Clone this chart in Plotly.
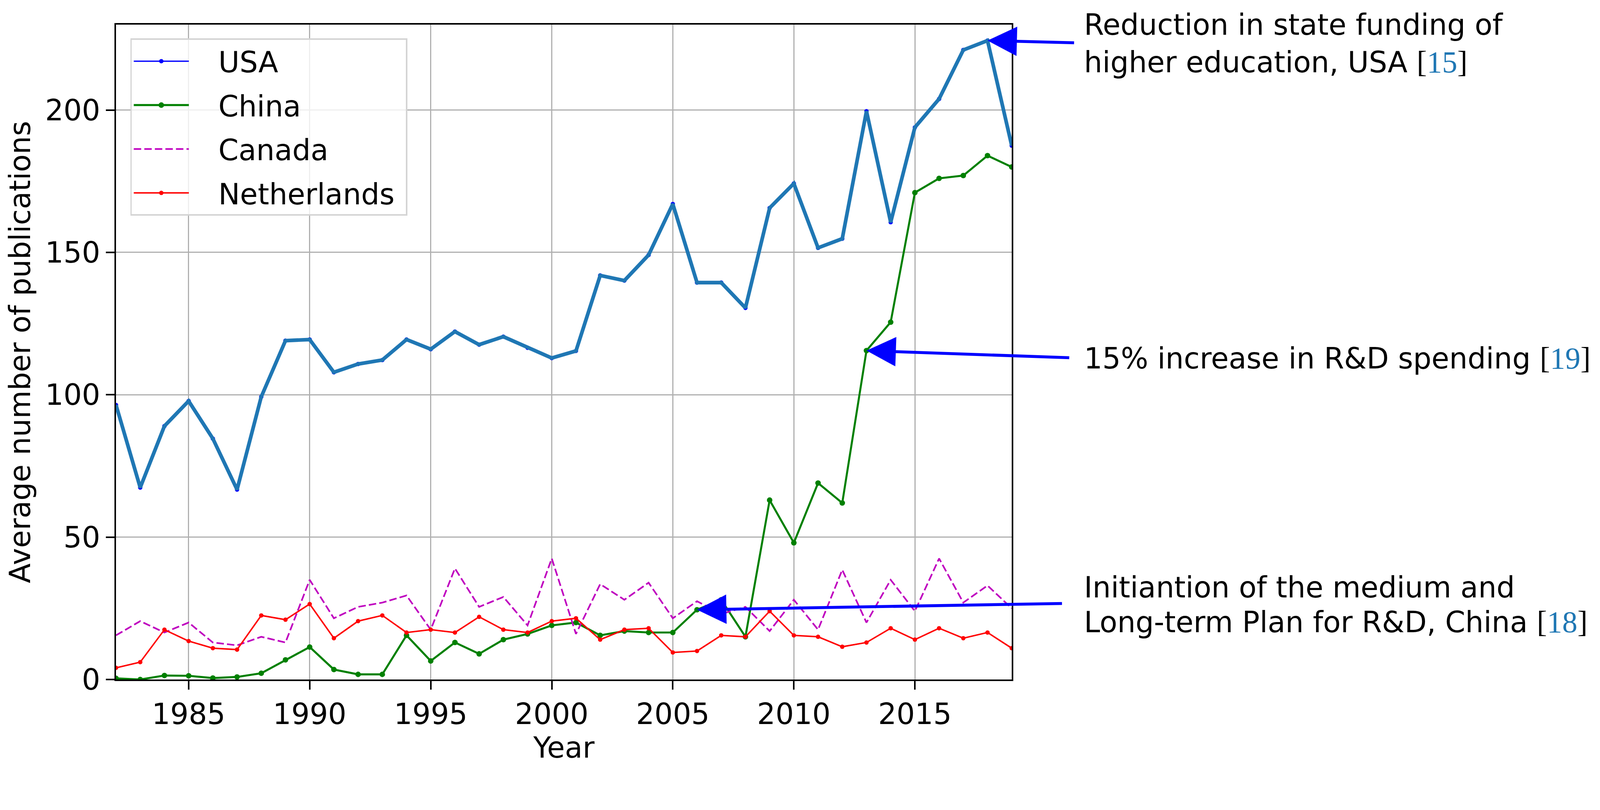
import plotly.graph_objects as go

years = list(range(1982, 2020))

usa = [96.4, 67.4, 89.0, 97.8, 84.6, 66.7, 99.3, 119.0, 119.4, 107.9,
       110.8, 112.2, 119.4, 116.0, 122.2, 117.6, 120.4, 116.5, 112.9, 115.4,
       141.9, 140.1, 149.1, 167.0, 139.4, 139.4, 130.5, 165.6, 174.2, 151.6,
       154.8, 199.6, 160.6, 193.9, 203.9, 221.1, 224.4, 187.5]

china = [0.4, 0.0, 1.4, 1.3, 0.5, 0.9, 2.2, 6.9, 11.4, 3.5,
         1.8, 1.8, 15.5, 6.5, 13.0, 9.0, 14.0, 16.0, 19.0, 20.0,
         15.5, 17.0, 16.5, 16.5, 24.5, 28.0, 15.0, 63.0, 48.0, 69.0,
         62.0, 115.5, 125.5, 171.0, 176.0, 177.0, 184.0, 180.0]

canada = [15.5, 20.5, 16.5, 20.0, 13.0, 12.0, 15.0, 13.0, 35.0, 21.5,
          25.5, 27.0, 29.5, 17.5, 39.0, 25.5, 29.0, 19.0, 42.5, 16.0,
          33.5, 28.0, 34.0, 21.5, 27.5, 23.0, 25.5, 17.0, 28.0, 17.5,
          38.5, 20.0, 35.0, 24.0, 42.5, 27.0, 33.0, 25.0]

netherlands = [4.1, 6.1, 17.5, 13.5, 11.0, 10.5, 22.5, 21.0, 26.5, 14.5,
               20.5, 22.5, 16.5, 17.5, 16.5, 22.0, 17.5, 16.5, 20.5, 21.5,
               14.0, 17.5, 18.0, 9.5, 10.0, 15.5, 15.0, 24.0, 15.5, 15.0,
               11.5, 13.0, 18.0, 14.0, 18.0, 14.5, 16.5, 11.0]

x_ticks = [1985, 1990, 1995, 2000, 2005, 2010, 2015]
y_ticks = [0, 50, 100, 150, 200]

# annotation events: (series, year, text lines, citation)
events = [
    ("usa", 2018, ["Reduction in state funding of", "higher education, USA"], "15"),
    ("china", 2013, ["15% increase in R&amp;D spending"], "19"),
    ("china", 2006, ["Initiantion of the medium and", "Long-term Plan for R&amp;D, China"], "18"),
]
series_map = {"usa": usa, "china": china}

# the page appears to be captured from a 4096-px-wide viewport scaled up to 4357
K = 4096 / 4357
W = 4096
H = round(2073 * K)
BODY = 8  # default body margin of the html page

FONT = "DejaVu Sans"
FS = 74
CITE_FS = 78
PAD = "\u00a0\u00a0\u00a0"


def s(v):
    return v * K


fig = go.Figure()

fig.add_trace(go.Scatter(x=years, y=usa, mode="lines+markers", name=PAD + "USA",
                         line=dict(color="#0000ff", width=s(3.5)),
                         marker=dict(color="#0000ff", size=s(12)),
                         legendgroup="a"))
fig.add_trace(go.Scatter(x=years, y=china, mode="lines+markers", name=PAD + "China",
                         line=dict(color="#008000", width=s(5.5)),
                         marker=dict(color="#008000", size=s(15)),
                         legendgroup="b"))
fig.add_trace(go.Scatter(x=years, y=canada, mode="lines", name=PAD + "Canada",
                         line=dict(color="#bf00bf", width=s(4.5), dash="19px,8px"),
                         legendgroup="c"))
fig.add_trace(go.Scatter(x=years, y=netherlands, mode="lines+markers",
                         name=PAD + "Netherlands\u00a0",
                         line=dict(color="#ff0000", width=s(4)),
                         marker=dict(color="#ff0000", size=s(12)),
                         legendgroup="d"))
fig.add_trace(go.Scatter(x=years, y=usa, mode="lines", showlegend=False,
                         line=dict(color="#1f77b4", width=s(10)), hoverinfo="skip"))

annotations = []
# arrow tails (data coords) and text line positions (paper coords)
tails = [(2021.6, 223.6), (2021.4, 113.0), (2021.1, 26.7)]
text_y = [[1.000, 0.943], [0.491], [0.141, 0.088]]
for (ser, yr, lines, cite), (tx, ty), ys in zip(events, tails, text_y):
    vals = series_map[ser]
    hy = vals[years.index(yr)]
    annotations.append(dict(x=yr, y=hy, xref="x", yref="y", ax=tx, ay=ty,
                            axref="x", ayref="y", text="", showarrow=True,
                            arrowhead=2, arrowsize=2.0, arrowwidth=s(8),
                            arrowcolor="#0000ff", standoff=0))
    for i, (ln, yy) in enumerate(zip(lines, ys)):
        txt = ln
        if i == len(lines) - 1:
            txt = (ln + ' <span style="font-family:Liberation Serif;font-size:%dpx">[' % CITE_FS +
                   '<span style="color:#1f77b4">' + cite + '</span>]</span>')
        annotations.append(dict(x=1.08, y=yy, xref="paper", yref="paper",
                                xanchor="left", yanchor="middle", text=txt,
                                showarrow=False,
                                font=dict(family=FONT, size=FS, color="black")))

left = round(316 * K) - BODY
top = round(67 * K) - BODY
right = W - (round(2755 * K) - BODY)
bottom = H - (round(1850 * K) - BODY)

fig.update_layout(
    width=W, height=H,
    margin=dict(l=left, r=right, t=top, b=bottom),
    paper_bgcolor="white", plot_bgcolor="white",
    font=dict(family=FONT, size=FS, color="black"),
    annotations=annotations,
    legend=dict(x=0.016, y=0.979, xanchor="left", yanchor="top",
                bgcolor="rgba(255,255,255,0.8)", bordercolor="#d4d4d4",
                borderwidth=s(4), font=dict(family=FONT, size=FS, color="black"),
                tracegroupgap=s(14), itemwidth=s(150)),
    showlegend=True,
)
fig.update_xaxes(range=[1982, 2019], tickvals=x_ticks, ticks="outside", ticklen=s(23),
                 tickwidth=s(4), tickcolor="black", showline=True, linecolor="black",
                 linewidth=s(4), mirror=True, showgrid=True, gridcolor="#b0b0b0",
                 gridwidth=s(3), zeroline=False,
                 title=dict(text="Year", standoff=s(4), font=dict(size=FS)),
                 tickfont=dict(size=FS))
fig.update_yaxes(range=[0, 230], tickvals=y_ticks, ticks="outside", ticklen=s(23),
                 tickwidth=s(4), tickcolor="black", showline=True, linecolor="black",
                 linewidth=s(4), mirror=True, showgrid=True, gridcolor="#b0b0b0",
                 gridwidth=s(3), zeroline=False,
                 title=dict(text="Average number of publications", standoff=s(36),
                            font=dict(size=FS)),
                 tickfont=dict(size=FS))

fig.write_html("out.html")
